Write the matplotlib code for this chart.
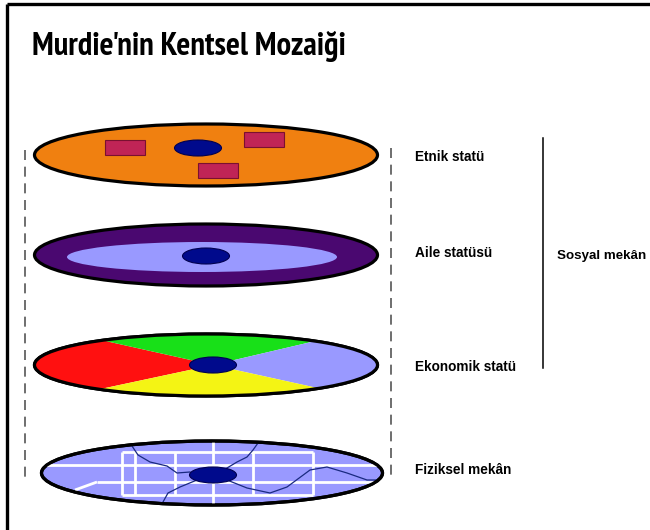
import matplotlib.pyplot as plt
from matplotlib.patches import Ellipse, Rectangle, Polygon

# layer labels and colours (top to bottom)
layer_labels = ['Etnik statü', 'Aile statüsü', 'Ekonomik statü', 'Fiziksel mekân']
group_label = 'Sosyal mekân'
title = "Murdie'nin Kentsel Mozaiği"

orange = '#F08010'
purple = '#4A0870'
light_blue = '#9999FF'
core_blue = '#000A8C'
crimson = '#C02456'
sector_colors = ['#FF1010', '#18E018', '#9999FF', '#F4F414']  # left, top, right, bottom

# layout (pixels, y down)
layer_y = [155, 255, 365, 473]
label_y = [157, 253, 367, 470]
disc_x, disc_w, disc_h = 206, 343, 62

title_font = ['PT Sans Narrow', 'Roboto Condensed', 'DejaVu Sans']
label_font = ['Liberation Sans', 'DejaVu Sans']

fig = plt.figure(figsize=(6.5, 5.3), dpi=100)
ax = fig.add_axes([0, 0, 1, 1])
ax.set_xlim(0, 650)
ax.set_ylim(530, 0)
ax.axis('off')

# frame (top and left only)
ax.plot([7, 650], [4, 4], color='black', lw=2.4, solid_capstyle='butt')
ax.plot([7, 7], [4, 530], color='black', lw=2.4, solid_capstyle='butt')

ax.text(32, 55, title, fontsize=23.5, fontweight='bold', family=title_font, va='baseline', ha='left')

# dashed guides
ax.plot([25, 25], [150, 482], color='#555555', lw=1.2, dashes=(6, 4))
ax.plot([391, 391], [148, 478], color='#555555', lw=1.2, dashes=(6, 4))


def disc(cx, cy, fc):
    e = Ellipse((cx, cy), disc_w, disc_h, fc=fc, ec='black', lw=2.3, zorder=2)
    ax.add_patch(e)
    return e


def core(cx, cy):
    ax.add_patch(Ellipse((cx, cy), 47, 16, fc=core_blue, ec='#000050', lw=0.8, zorder=5))


# 1. ethnic status
y0 = layer_y[0]
disc(disc_x, y0, orange)
for rx, ry in [(105, 140), (244, 132), (198, 163)]:
    ax.add_patch(Rectangle((rx, ry), 40, 15, fc=crimson, ec='#7A1030', lw=0.8, zorder=4))
core(198, 148)

# 2. family status
y1 = layer_y[1]
disc(disc_x, y1, purple)
ax.add_patch(Ellipse((202, 257), 270, 30, fc=light_blue, ec='none', zorder=3))
core(206, 256)

# 3. economic status
y2 = layer_y[2]
e3 = disc(disc_x, y2, 'white')
cx, cy = 213, 365
rays = [(110, 342), (307, 343), (313, 387), (110, 387)]
far = [(cx + (px - cx) * 4, cy + (py - cy) * 4) for px, py in rays]
sectors = [
    [(cx, cy), far[3], (-600, 600), (-600, -300), far[0]],  # left
    [(cx, cy), far[0], (-600, -300), (1200, -300), far[1]],  # top
    [(cx, cy), far[1], (1200, -300), (1200, 800), far[2]],  # right
    [(cx, cy), far[2], (1200, 800), (-600, 800), far[3]],  # bottom
]
for pts, c in zip(sectors, sector_colors):
    p = Polygon(pts, fc=c, ec='none', zorder=3)
    ax.add_patch(p)
    p.set_clip_path(e3)
ax.add_patch(Ellipse((disc_x, y2), disc_w, disc_h, fc='none', ec='black', lw=2.3, zorder=4))
core(cx, cy)

# 4. physical space
y3 = layer_y[3]
e4 = Ellipse((212, y3), 341, 64, fc=light_blue, ec='black', lw=2.3, zorder=2)
ax.add_patch(e4)
street_kw = dict(color='white', lw=2.0, zorder=3, solid_capstyle='butt')
streets = [
    ([122, 122], [452, 495]), ([135, 135], [452, 495]), ([175, 175], [452, 495]),
    ([213, 213], [440, 508]), ([253, 253], [452, 495]), ([313, 313], [452, 495]),
    ([122, 313], [452, 452]), ([40, 385], [465, 465]),
    ([97, 378], [482, 482]), ([75, 97], [490, 482]), ([122, 313], [495, 495]),
]
for xs, ys in streets:
    ln, = ax.plot(xs, ys, **street_kw)
    ln.set_clip_path(e4)
roads = [
    ([190, 177, 167, 150, 138, 130], [472, 473, 466, 462, 455, 443]),
    ([227, 237, 247, 253, 258], [468, 462, 457, 450, 443]),
    ([197, 180, 168, 163], [480, 487, 493, 502]),
    ([227, 247, 270, 287, 310, 327, 347, 367, 385], [480, 488, 493, 487, 470, 467, 473, 480, 480]),
]
for xs, ys in roads:
    ln, = ax.plot(xs, ys, color='#1A2A80', lw=0.9, zorder=3)
    ln.set_clip_path(e4)
ax.add_patch(Ellipse((212, y3), 341, 64, fc='none', ec='black', lw=2.3, zorder=4))
core(213, 475)

# labels
for lab, ly in zip(layer_labels, label_y):
    ax.text(415, ly, lab, fontsize=9.8, fontweight='bold', family=label_font, va='center', ha='left')
ax.plot([543, 543], [138, 368], color='black', lw=1.1)
ax.text(557, 256, group_label, fontsize=9.6, fontweight='bold', family=label_font, va='center', ha='left')

fig.savefig('out.png', dpi=100)
